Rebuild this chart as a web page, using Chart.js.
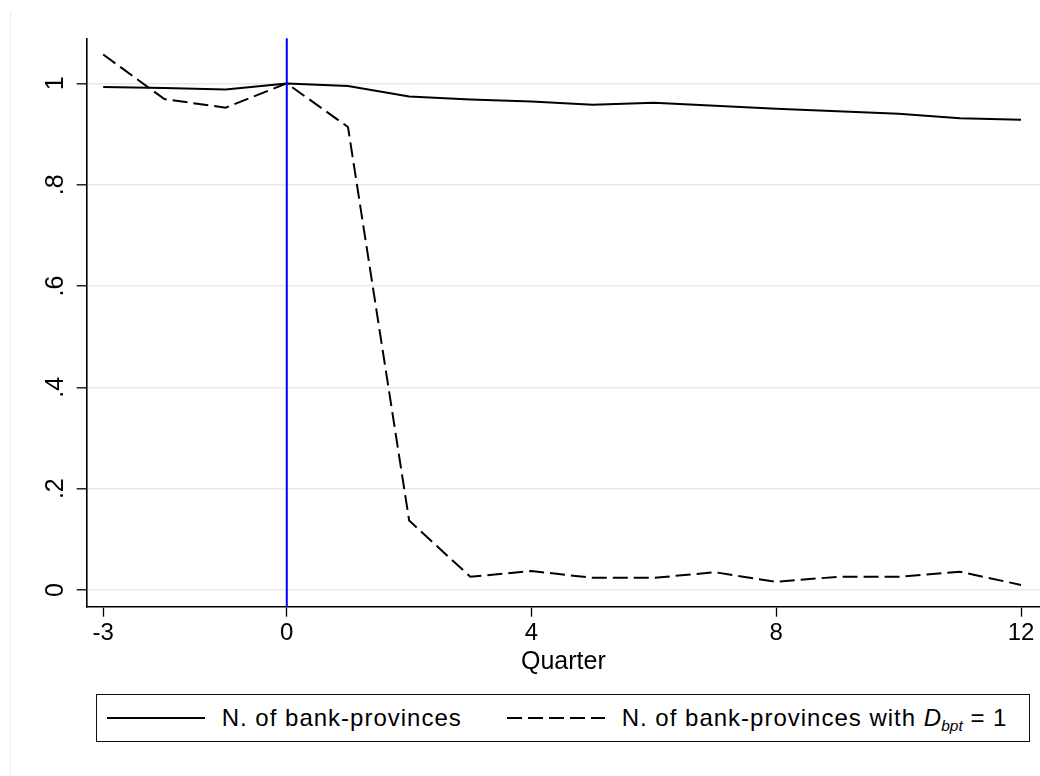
<!DOCTYPE html>
<html>
<head>
<meta charset="utf-8">
<script src="https://cdn.jsdelivr.net/npm/chart.js@4/dist/chart.umd.min.js"></script>
<style>
  html, body { margin: 0; padding: 0; background: #fff; }
  #wrap { position: relative; width: 1040px; height: 776px; overflow: hidden; }
  #chart { position: absolute; left: 0; top: 0; }
  .legend {
    position: absolute; left: 95.7px; top: 694.3px; width: 934.3px; height: 48px;
    box-sizing: border-box; border: 1.4px solid #111; background: #fff;
    font-family: 'Liberation Sans', Arial, sans-serif; font-size: 24px; color: #000;
    letter-spacing: 1px;
  }
  .legend .txt { position: absolute; top: 9px; line-height: 28px; white-space: nowrap; }
  .legend .key { position: absolute; top: 22px; height: 2px; }
  .legend i { letter-spacing: 0; }
  .legend sub { font-size: 15.5px; font-style: italic; vertical-align: -5px; line-height: 0; letter-spacing: 0; }
</style>
</head>
<body>
<div id="wrap">
  <canvas id="chart" width="1040" height="776"></canvas>
  <div class="legend">
    <svg class="key" style="left:10px; width:98px;" width="98" height="2"><line x1="0" y1="1" x2="98" y2="1" stroke="#000" stroke-width="2"/></svg>
    <span class="txt" id="lab0" style="left:125px;"></span>
    <svg class="key" style="left:410px; width:98px;" width="98" height="2"><line x1="0" y1="1" x2="98" y2="1" stroke="#000" stroke-width="2" stroke-dasharray="15 6"/></svg>
    <span class="txt" id="lab1" style="left:525px;"></span>
  </div>
</div>
<script>
// Event time (quarters relative to the event)
const quarters = [-3, -2, -1, 0, 1, 2, 3, 4, 5, 6, 7, 8, 9, 10, 11, 12];

// Bank-provinces still present, normalised to quarter 0
const bankProvinces = [0.993, 0.991, 0.988, 1.000, 0.995, 0.974, 0.968, 0.964,
                       0.958, 0.962, 0.956, 0.950, 0.945, 0.940, 0.931, 0.928];

// Bank-provinces with D_bpt = 1, normalised to quarter 0
const bankProvincesD = [1.057, 0.969, 0.952, 1.000, 0.914, 0.137, 0.026, 0.0375,
                        0.024, 0.024, 0.035, 0.016, 0.026, 0.026, 0.036, 0.010];

// Axis ticks and their printed labels
const xTicks = [-3, 0, 4, 8, 12];
const xTickLabels = ['-3', '0', '4', '8', '12'];
const yTicks = [0, 0.2, 0.4, 0.6, 0.8, 1];
const yTickLabels = ['0', '.2', '.4', '.6', '.8', '1'];

const eventQuarter = 0;
const xTitle = 'Quarter';
const seriesNames = ['N. of bank-provinces', 'N. of bank-provinces with'];

// Legend text (the D_bpt part is italic with a subscript)
document.getElementById('lab0').textContent = seriesNames[0];
(function () {
  const el = document.getElementById('lab1');
  el.appendChild(document.createTextNode(seriesNames[1] + ' '));
  const d = document.createElement('i'); d.textContent = 'D'; el.appendChild(d);
  const s = document.createElement('sub'); s.textContent = 'bpt'; el.appendChild(s);
  el.appendChild(document.createTextNode(' = 1'));
})();

const FONT = "'Liberation Sans', Arial, sans-serif";
Chart.defaults.font.family = FONT;
Chart.defaults.color = '#000';

// White page with the faint outer frame line on the left
const backdrop = {
  id: 'backdrop',
  beforeDraw(chart) {
    const ctx = chart.ctx;
    ctx.save();
    ctx.fillStyle = '#fff';
    ctx.fillRect(0, 0, chart.width, chart.height);
    ctx.strokeStyle = '#ededed';
    ctx.lineWidth = 1;
    ctx.beginPath();
    ctx.moveTo(10.5, 11);
    ctx.lineTo(10.5, chart.height);
    ctx.stroke();
    ctx.restore();
  }
};

// Vertical reference line at the event quarter
const eventLine = {
  id: 'eventLine',
  afterDatasetsDraw(chart) {
    const { ctx, chartArea, scales } = chart;
    const x = scales.x.getPixelForValue(eventQuarter);
    ctx.save();
    ctx.strokeStyle = '#0000ff';
    ctx.lineWidth = 2;
    ctx.beginPath();
    ctx.moveTo(x, chartArea.top);
    ctx.lineTo(x, chartArea.bottom);
    ctx.stroke();
    ctx.restore();
  }
};

const toPoints = (ys) => quarters.map((q, i) => ({ x: q, y: ys[i] }));

new Chart(document.getElementById('chart'), {
  type: 'line',
  data: {
    datasets: [
      {
        label: seriesNames[0],
        data: toPoints(bankProvinces),
        borderColor: '#000',
        borderWidth: 2,
        pointRadius: 0,
        tension: 0,
        fill: false
      },
      {
        label: seriesNames[1] + ' D_bpt = 1',
        data: toPoints(bankProvincesD),
        borderColor: '#000',
        borderWidth: 2,
        borderDash: [15, 6],
        pointRadius: 0,
        tension: 0,
        fill: false
      }
    ]
  },
  options: {
    responsive: false,
    animation: false,
    devicePixelRatio: 1,
    layout: { padding: { top: 38.3, left: 0, right: 0, bottom: 99.3 } },
    plugins: {
      legend: { display: false },
      tooltip: { enabled: false }
    },
    scales: {
      x: {
        type: 'linear',
        min: -3.27,
        max: 12.31,
        afterBuildTicks: (s) => { s.ticks = xTicks.map(v => ({ value: v })); },
        afterFit: (s) => { s.height = 70; },
        ticks: {
          autoSkip: false,
          maxRotation: 0,
          padding: 2,
          font: { size: 24 },
          color: '#000',
          callback: (v) => xTickLabels[xTicks.indexOf(v)]
        },
        grid: {
          drawOnChartArea: false,
          drawTicks: true,
          tickLength: 10,
          tickColor: '#000',
          tickWidth: 1.3
        },
        border: { display: true, color: '#000', width: 1.6 },
        title: {
          display: true,
          text: xTitle,
          font: { size: 25 },
          color: '#000',
          padding: 0
        }
      },
      y: {
        type: 'linear',
        min: -0.033,
        max: 1.089,
        afterBuildTicks: (s) => { s.ticks = yTicks.map(v => ({ value: v })); },
        afterFit: (s) => { s.width = 86.7; },
        ticks: {
          autoSkip: false,
          minRotation: 90,
          maxRotation: 90,
          crossAlign: 'center',
          padding: 10,
          font: { size: 25 },
          color: '#000',
          callback: (v) => yTickLabels[yTicks.indexOf(v)]
        },
        grid: {
          drawOnChartArea: true,
          color: '#e8e8e8',
          lineWidth: 1.6,
          drawTicks: true,
          tickLength: 10,
          tickColor: '#000',
          tickWidth: 1.3
        },
        border: { display: true, color: '#000', width: 1.6 }
      }
    }
  },
  plugins: [backdrop, eventLine]
});
</script>
</body>
</html>
